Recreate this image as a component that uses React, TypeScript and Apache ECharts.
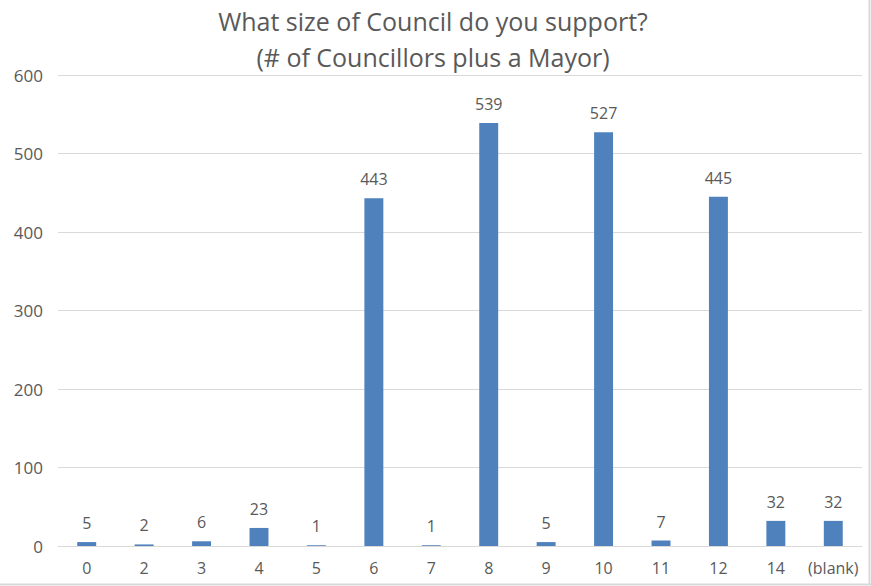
import React, { useEffect, useRef } from "react";
import * as echarts from "echarts";

const categories = ["0", "2", "3", "4", "5", "6", "7", "8", "9", "10", "11", "12", "14", "(blank)"];
const values = [5, 2, 6, 23, 1, 443, 1, 539, 5, 527, 7, 445, 32, 32];
const titleLines = ["What size of Council do you support?", "(# of Councillors plus a Mayor)"];

export default function App() {
  const ref = useRef<HTMLDivElement>(null);
  useEffect(() => {
    document.body.style.margin = "0";
    const chart = echarts.init(ref.current!, null, { renderer: "svg" });
    const font = "'Open Sans', 'Noto Sans', sans-serif";
    chart.setOption({
      animation: false,
      backgroundColor: "#ffffff",
      title: {
        text: titleLines.join("\n"),
        left: 428,
        textAlign: "center",
        top: -2,
        textStyle: {
          fontFamily: font,
          fontSize: 25,
          fontWeight: "normal",
          color: "#595959",
          lineHeight: 36,
        },
      },
      grid: { left: 58, right: 9, top: 75, bottom: 40 },
      xAxis: {
        type: "category",
        data: categories,
        axisLine: { show: true, lineStyle: { color: "#d9d9d9", width: 1 } },
        axisTick: { show: false },
        axisLabel: { color: "#595959", fontSize: 16, fontFamily: font, margin: 14, interval: 0 },
      },
      yAxis: {
        type: "value",
        min: 0,
        max: 600,
        interval: 100,
        axisLine: { show: false },
        axisTick: { show: false },
        splitLine: { lineStyle: { color: "#d9d9d9", width: 1 } },
        axisLabel: { color: "#595959", fontSize: 17, fontFamily: font, margin: 15 },
      },
      series: [
        {
          type: "bar",
          data: values,
          barWidth: "33%",
          itemStyle: { color: "#4f81bd" },
          label: {
            show: true,
            position: "top",
            distance: 11,
            color: "#595959",
            fontSize: 16,
            fontFamily: font,
          },
        },
      ],
      graphic: [
        {
          type: "line",
          shape: { x1: 869.5, y1: 0, x2: 869.5, y2: 585 },
          style: { stroke: "#d9d9d9", lineWidth: 2 },
        },
        {
          type: "line",
          shape: { x1: 0, y1: 584.5, x2: 871, y2: 584.5 },
          style: { stroke: "#d9d9d9", lineWidth: 2 },
        },
      ],
    });
    return () => chart.dispose();
  }, []);
  return <div ref={ref} style={{ width: 871, height: 586 }} />;
}
